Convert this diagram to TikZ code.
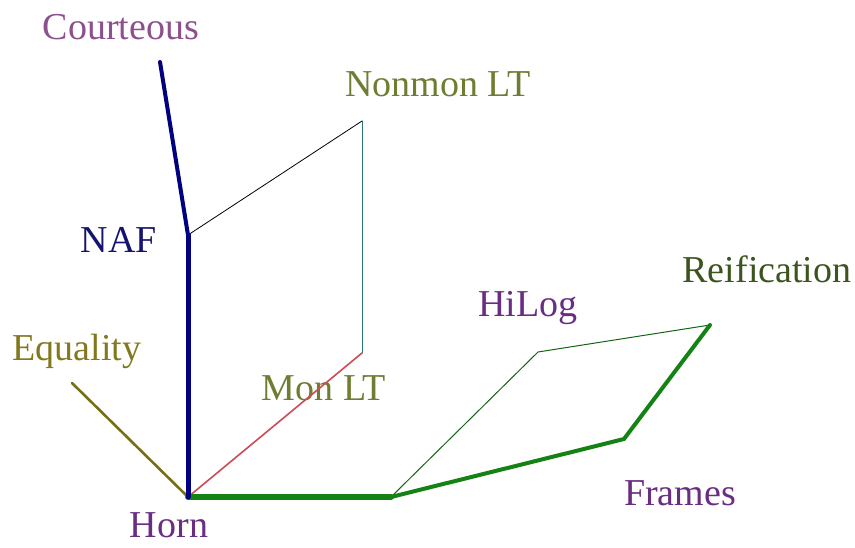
\documentclass[tikz,border=0pt]{standalone}
\usepackage{fontspec}
\setmainfont{Liberation Serif}
\definecolor{cpurple}{RGB}{140,80,140}
\definecolor{cpurpled}{RGB}{105,45,130}
\definecolor{colive}{RGB}{110,125,50}
\definecolor{colivey}{RGB}{130,120,30}
\definecolor{cnavy}{RGB}{20,20,110}
\definecolor{cdkgreen}{RGB}{60,85,30}
\definecolor{lnavy}{RGB}{0,0,128}
\definecolor{lteal}{RGB}{40,120,120}
\definecolor{lred}{RGB}{205,75,85}
\definecolor{lolive}{RGB}{120,110,20}
\definecolor{lgreen}{RGB}{20,130,20}
\definecolor{lgreend}{RGB}{20,100,20}
\tikzset{
  lbl/.style={anchor=base,inner sep=0pt,font=\fontsize{38}{40}\selectfont},
  edge/.style={line cap=round,line join=round}
}
\begin{document}
\begin{tikzpicture}[x=1pt,y=-1pt]
\useasboundingbox (0,0) rectangle (855,548);
% points
\coordinate (horn) at (188,497);
\coordinate (naf) at (188,235);
\coordinate (cour) at (160,62);
\coordinate (nonmon) at (362,121);
\coordinate (mon) at (362,353);
\coordinate (eq) at (72,383);
\coordinate (fj) at (391,497);
\coordinate (hilog) at (538,352);
\coordinate (reif) at (710,325);
\coordinate (frames) at (624,439);
% labels
\node[lbl,text=cpurple] (lcour) at (121,40) {Courteous};
\node[lbl,text=colive] (lnonmon) at (438,97) {Nonmon LT};
\node[lbl,text=cnavy] (lnaf) at (119,253) {NAF};
\node[lbl,text=colivey] (leq) at (77,360) {Equality};
\node[lbl,text=colive] (lmon) at (324,400) {Mon LT};
\node[lbl,text=cpurpled] (lhorn) at (169,537) {Horn};
\node[lbl,text=cpurpled] (lhilog) at (528,317) {HiLog};
\node[lbl,text=cdkgreen] (lreif) at (767,283) {Reification};
\node[lbl,text=cpurpled] (lframes) at (680,505) {Frames};
% connectors
\draw[edge,black,line width=0.8pt] (naf) -- (nonmon);
\draw[edge,lteal,line width=1pt] (nonmon) -- (mon);
\draw[edge,lred,line width=1.6pt] (mon) -- (horn);
\draw[edge,lolive,line width=2.6pt] (eq) -- (horn);
\draw[edge,lgreend,line width=1pt] (fj) -- (hilog) -- (reif);
\draw[edge,lgreen,line width=4pt] (reif) -- (frames) -- (fj);
\draw[edge,lgreen,line width=6pt] (horn) -- (fj);
\draw[edge,lnavy,line width=4pt] (naf) -- (cour);
\draw[edge,lnavy,line width=5pt] (horn) -- (naf);
\end{tikzpicture}
\end{document}
